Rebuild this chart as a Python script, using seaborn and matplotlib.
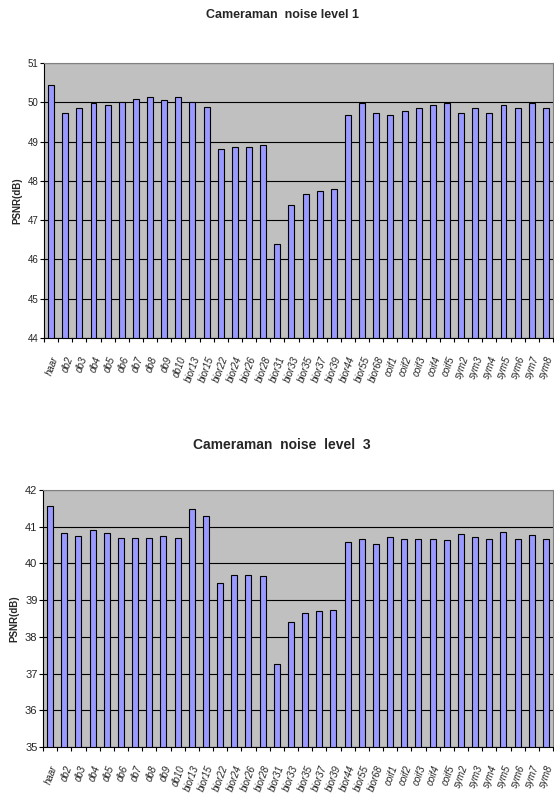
import numpy as np
import pandas as pd
import matplotlib.pyplot as plt
from matplotlib.ticker import FixedLocator
import seaborn as sns

# ── Data ────────────────────────────────────────────────────────────────────
WAVELETS = ["haar", "db2", "db3", "db4", "db5", "db6", "db7", "db8", "db9", "db10",
            "bior13", "bior15", "bior22", "bior24", "bior26", "bior28", "bior31",
            "bior33", "bior35", "bior37", "bior39", "bior44", "bior55", "bior68",
            "coif1", "coif2", "coif3", "coif4", "coif5",
            "sym2", "sym3", "sym4", "sym5", "sym6", "sym7", "sym8"]

PSNR_LEVEL1 = [50.44, 49.74, 49.85, 49.98, 49.92, 50.00, 50.09, 50.13, 50.05, 50.13,
               50.00, 49.89, 48.80, 48.87, 48.87, 48.92, 46.39,
               47.38, 47.66, 47.75, 47.79, 49.67, 49.97, 49.72,
               49.67, 49.79, 49.85, 49.92, 49.97,
               49.74, 49.85, 49.74, 49.92, 49.85, 49.97, 49.85]

PSNR_LEVEL3 = [41.57, 40.84, 40.75, 40.92, 40.84, 40.70, 40.70, 40.70, 40.75, 40.70,
               41.49, 41.28, 39.47, 39.69, 39.69, 39.66, 37.25,
               38.40, 38.65, 38.71, 38.74, 40.58, 40.67, 40.53,
               40.72, 40.67, 40.67, 40.67, 40.63,
               40.81, 40.72, 40.67, 40.86, 40.67, 40.77, 40.67]

# ── Style ───────────────────────────────────────────────────────────────────
sns.set_theme(style="white")
plt.rcParams["font.family"] = ["Liberation Sans", "DejaVu Sans"]
BAR = "#9999FF"
BG = "#C0C0C0"

fig = plt.figure(figsize=(5.54, 7.96), dpi=100)
ax1 = fig.add_axes([44 / 554, 1 - 338 / 796, 509 / 554, 275 / 796])
ax2 = fig.add_axes([43 / 554, 1 - 747 / 796, 510 / 554, 257 / 796])

panels = [
    (ax1, PSNR_LEVEL1, (44, 51), "Cameraman  noise level 1", 7, 15),
    (ax2, PSNR_LEVEL3, (35, 42), "Cameraman  noise  level  3", 8, 445),
]

for ax, vals, (lo, hi), title, yfs, ty in panels:
    df = pd.DataFrame({"wavelet": WAVELETS, "psnr": vals})
    sns.barplot(data=df, x="wavelet", y="psnr", ax=ax, color=BAR, saturation=1,
                width=0.42, edgecolor="black", linewidth=0.8)
    ax.set_facecolor(BG)
    ax.set_ylim(lo, hi)
    ax.set_xlim(-0.5, len(WAVELETS) - 0.5)
    ax.set_yticks(range(lo, hi + 1))
    ax.set_yticklabels([str(v) for v in range(lo, hi + 1)], fontsize=yfs)
    ax.yaxis.grid(True, color="black", linewidth=0.8)
    ax.set_axisbelow(True)

    ax.set_xticks(range(len(WAVELETS)))
    ax.set_xticklabels(WAVELETS, rotation=70, fontsize=7, style="italic",
                       ha="right", rotation_mode="anchor")
    ax.xaxis.set_minor_locator(FixedLocator(np.arange(-0.5, len(WAVELETS), 1.0)))
    ax.tick_params(axis="x", which="major", length=0, pad=12)
    ax.tick_params(axis="x", which="minor", length=3, width=0.8, color="black",
                   direction="out", bottom=True)
    ax.tick_params(axis="y", which="major", length=3, width=0.8, color="black",
                   direction="out", left=True, pad=1)

    for side in ["top", "right"]:
        ax.spines[side].set_color("#808080")
        ax.spines[side].set_linewidth(0.8)
    for side in ["left", "bottom"]:
        ax.spines[side].set_color("black")
        ax.spines[side].set_linewidth(0.8)

    ax.set_xlabel("")
    ax.set_ylabel("PSNR(dB)", fontsize=7, fontweight="bold", labelpad=4)
    fig.text(282 / 554, 1 - ty / 796, title, ha="center", va="center",
             fontsize=9 if ax is ax1 else 10, fontweight="bold")

fig.savefig("out.png", dpi=100, facecolor="white")
